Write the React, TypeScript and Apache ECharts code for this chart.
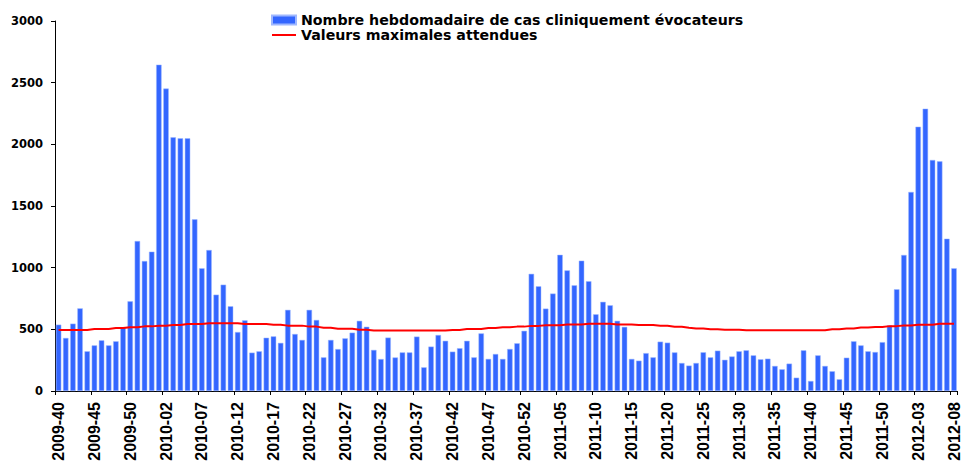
import React, { useEffect, useRef } from "react";
import * as echarts from "echarts";

const weekCounts2009 = 53;
const startWeek = 40;

// weekly categories 2009-40 .. 2012-08
const categories: string[] = [];
for (let w = startWeek; w <= weekCounts2009; w++) categories.push(`2009-${String(w).padStart(2, "0")}`);
for (let w = 1; w <= 52; w++) categories.push(`2010-${String(w).padStart(2, "0")}`);
for (let w = 1; w <= 52; w++) categories.push(`2011-${String(w).padStart(2, "0")}`);
for (let w = 1; w <= 8; w++) categories.push(`2012-${String(w).padStart(2, "0")}`);

const weeklyCases = [
  538, 430, 546, 670, 322, 370, 411, 370, 403, 514,
  727, 1216, 1054, 1130, 2646, 2452, 2057, 2049, 2049, 1392,
  995, 1143, 781, 862, 687, 478, 573, 311, 322, 432,
  443, 390, 658, 462, 414, 658, 576, 273, 414, 340,
  427, 473, 569, 521, 333, 259, 433, 272, 313, 313,
  441, 192, 360, 454, 407, 319, 347, 407, 273, 467,
  260, 300, 260, 341, 387, 488, 950, 849, 668, 790,
  1104, 978, 857, 1057, 890, 622, 723, 695, 569, 520,
  260, 246, 307, 273, 400, 392, 313, 227, 206, 227,
  314, 273, 327, 253, 280, 322, 330, 289, 257, 262,
  203, 176, 222, 108, 330, 81, 289, 203, 160, 95,
  270, 403, 370, 322, 316, 396, 532, 825, 1103, 1614,
  2143, 2289, 1873, 1862, 1235, 995,
];

const expectedMax = [
  495, 495, 495, 495, 495, 503, 503, 503, 511, 511,
  516, 516, 524, 524, 530, 530, 535, 535, 543, 543,
  543, 549, 549, 549, 549, 549, 543, 543, 543, 543,
  538, 538, 530, 530, 530, 522, 522, 513, 513, 505,
  505, 505, 497, 497, 490, 490, 490, 490, 490, 490,
  490, 490, 490, 490, 490, 495, 495, 502, 502, 502,
  510, 510, 516, 516, 522, 522, 528, 528, 534, 534,
  534, 539, 539, 539, 545, 545, 545, 545, 540, 540,
  540, 535, 535, 535, 529, 529, 521, 521, 513, 507,
  507, 500, 500, 497, 497, 497, 492, 492, 492, 492,
  492, 492, 492, 492, 492, 492, 492, 492, 500, 500,
  507, 507, 514, 514, 519, 519, 526, 526, 532, 532,
  538, 538, 538, 545, 545, 545,
];

const yTicks = [0, 500, 1000, 1500, 2000, 2500, 3000];

const WIDE = "'DejaVu Sans', Verdana, sans-serif";
const NARROW = "'Liberation Sans', Arial, sans-serif";

export default function App() {
  const ref = useRef<HTMLDivElement>(null);
  useEffect(() => {
    document.body.style.margin = "0";
    if (!ref.current) return;
    const chart = echarts.init(ref.current, undefined, { renderer: "svg" });
    chart.setOption({
      animation: false,
      backgroundColor: "#ffffff",
      legend: {
        orient: "vertical",
        left: 271,
        top: 13,
        padding: 0,
        itemWidth: 24,
        itemHeight: 9,
        itemGap: 1,
        textStyle: { fontFamily: WIDE, fontWeight: "bold", fontSize: 14.2, color: "#000", lineHeight: 14 },
        data: [
          { name: "Nombre hebdomadaire de cas cliniquement évocateurs", icon: "rect" },
          {
            name: "Valeurs maximales attendues",
            itemStyle: { opacity: 0, color: "rgba(0,0,0,0)", borderWidth: 0 },
            lineStyle: { color: "#FF0000", width: 2 },
          },
        ],
      },
      grid: { left: 55, right: 0, top: 21, bottom: 73, containLabel: false },
      xAxis: {
        type: "category",
        data: categories,
        boundaryGap: true,
        axisLine: { lineStyle: { color: "#000", width: 1 } },
        axisTick: { show: true, interval: 4, length: 4, lineStyle: { color: "#000" } },
        axisLabel: {
          interval: 4,
          rotate: 90,
          margin: 11,
          fontFamily: NARROW,
          fontWeight: "bold",
          fontSize: 16,
          color: "#000",
        },
        splitLine: { show: false },
      },
      yAxis: {
        type: "value",
        min: yTicks[0],
        max: yTicks[yTicks.length - 1],
        interval: 500,
        axisLine: { show: true, lineStyle: { color: "#000", width: 1 } },
        axisTick: { show: true, length: 4, lineStyle: { color: "#000" } },
        axisLabel: {
          margin: 12,
          fontFamily: WIDE,
          fontWeight: "bold",
          fontSize: 11.5,
          color: "#000",
          formatter: (v: number) => String(v),
        },
        splitLine: { show: false },
      },
      series: [
        {
          name: "Nombre hebdomadaire de cas cliniquement évocateurs",
          type: "bar",
          data: weeklyCases,
          barWidth: "76%",
          itemStyle: { color: "#3366FF", borderColor: "#9fb8ff", borderWidth: 0.5 },
        },
        {
          name: "Valeurs maximales attendues",
          type: "line",
          data: expectedMax,
          symbol: "none",
          showSymbol: false,
          lineStyle: { color: "#FF0000", width: 2 },
          itemStyle: { color: "#FF0000" },
          z: 5,
        },
      ],
    });
    return () => chart.dispose();
  }, []);
  return <div ref={ref} style={{ width: 962, height: 464 }} />;
}
